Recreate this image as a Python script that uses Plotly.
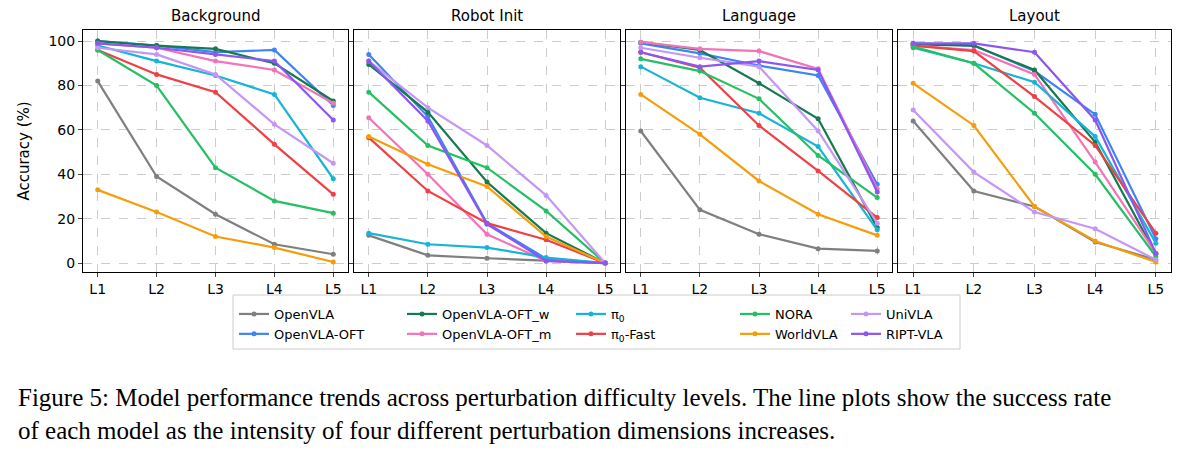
import plotly.graph_objects as go

levels = ["L1", "L2", "L3", "L4", "L5"]
panels = ["Background", "Robot Init", "Language", "Layout"]
models = ["OpenVLA", "OpenVLA-OFT", "OpenVLA-OFT_w", "OpenVLA-OFT_m", "π<sub>0</sub>",
          "π<sub>0</sub>-Fast", "NORA", "WorldVLA", "UniVLA", "RIPT-VLA"]
colors = ["#7f7f7f", "#3d85f5", "#167a50", "#f373b8", "#17b4d6",
          "#ee4045", "#25c063", "#f59e0b", "#c497f5", "#8a57f0"]

background = {
    "OpenVLA": [82, 39, 22, 8.5, 4],
    "OpenVLA-OFT": [100, 98, 95, 96, 71],
    "OpenVLA-OFT_w": [100, 98, 96.5, 90, 73],
    "OpenVLA-OFT_m": [99, 97, 91, 87, 72],
    "π<sub>0</sub>": [98, 91, 84.5, 76, 38],
    "π<sub>0</sub>-Fast": [96, 85, 77, 53.5, 31],
    "NORA": [96, 80, 43, 28, 22.5],
    "WorldVLA": [33, 23, 12, 7, 0.5],
    "UniVLA": [97, 94, 85, 62.5, 45],
    "RIPT-VLA": [99, 97, 94, 91, 64.5],
}
robot_init = {
    "OpenVLA": [12.5, 3.5, 2.2, 1, 0],
    "OpenVLA-OFT": [94, 66, 18, 2, 0],
    "OpenVLA-OFT_w": [89.5, 68, 36.5, 13.5, 0],
    "OpenVLA-OFT_m": [65.5, 40, 13, 1, 0],
    "π<sub>0</sub>": [13.5, 8.5, 7, 2.5, 0],
    "π<sub>0</sub>-Fast": [56.5, 32.5, 18, 10.5, 0],
    "NORA": [77, 53, 43, 23.5, 0],
    "WorldVLA": [57, 44.5, 34.5, 12, 0],
    "UniVLA": [91, 70, 53, 30.5, 0],
    "RIPT-VLA": [91, 64, 17.5, 1, 0],
}
language = {
    "OpenVLA": [59.5, 24, 13, 6.5, 5.5],
    "OpenVLA-OFT": [99, 94.5, 89, 84.5, 35.5],
    "OpenVLA-OFT_w": [99.5, 96, 81, 65, 16],
    "OpenVLA-OFT_m": [99.5, 96.5, 95.5, 87.5, 33.5],
    "π<sub>0</sub>": [88.5, 74.5, 67.5, 52.5, 15],
    "π<sub>0</sub>-Fast": [95, 88, 62, 41.5, 20.5],
    "NORA": [92, 86.5, 74, 48.5, 29.5],
    "WorldVLA": [76, 58, 37, 22, 12.5],
    "UniVLA": [97, 92.5, 88.5, 59.5, 18],
    "RIPT-VLA": [95, 88.5, 91, 87, 32],
}
layout_vals = {
    "OpenVLA": [64, 32.5, 25.5, 9.5, 1.5],
    "OpenVLA-OFT": [99, 98, 86.5, 67, 11],
    "OpenVLA-OFT_w": [98.5, 98, 87, 54.5, 4],
    "OpenVLA-OFT_m": [98, 96, 85, 45.5, 4.5],
    "π<sub>0</sub>": [97, 90, 81.5, 57, 9],
    "π<sub>0</sub>-Fast": [98, 95.5, 75, 53, 13.5],
    "NORA": [97.5, 90, 67.5, 40, 3],
    "WorldVLA": [81, 62, 25.5, 10, 0.5],
    "UniVLA": [69, 41, 23, 15.5, 1.5],
    "RIPT-VLA": [99, 99, 95, 64.5, 4.5],
}
data = [background, robot_init, language, layout_vals]

W, H = 1186, 457
xdom = [(75, 340), (346, 612), (618, 884), (890, 1163)]
ytop, ybot = 22, 264
legend_cols_px = [226, 394, 563, 727, 838]

fig = go.Figure()
for p, d in enumerate(data):
    ax = "" if p == 0 else str(p + 1)
    for i, (m, c) in enumerate(zip(models, colors)):
        lg = "legend" if i // 2 == 0 else "legend" + str(i // 2 + 1)
        fig.add_trace(go.Scatter(
            x=levels, y=d[m], mode="lines+markers", name=m,
            line=dict(color=c, width=2.2), marker=dict(size=5, color=c),
            xaxis="x" + ax, yaxis="y" + ax, showlegend=(p == 0), legend=lg))
    fig.layout["xaxis" + ax] = dict(
        domain=[xdom[p][0] / W, xdom[p][1] / W], anchor="y" + ax,
        showline=True, linecolor="black", mirror=True, ticks="outside", ticklen=4,
        showgrid=True, gridcolor="#cccccc", griddash="dash", gridwidth=0.8,
        tickfont=dict(size=14, color="black"), range=[-0.25, 4.25])
    fig.layout["yaxis" + ax] = dict(
        domain=[1 - ybot / H, 1 - ytop / H], anchor="x" + ax,
        range=[-4, 105], dtick=20, showline=True, linecolor="black", mirror=True,
        ticks="outside", ticklen=4, showgrid=True, gridcolor="#cccccc", griddash="dash",
        gridwidth=0.8, zeroline=False, showticklabels=(p == 0),
        tickfont=dict(size=14, color="black"),
        title=dict(text="Accuracy (%)", font=dict(size=15, color="black")) if p == 0 else None)
    fig.add_annotation(text=panels[p], x=(xdom[p][0] + xdom[p][1]) / 2 / W,
                       y=1 - (ytop - 3) / H, xref="paper", yref="paper",
                       xanchor="center", yanchor="bottom", showarrow=False,
                       font=dict(size=15, color="black"))

fig.add_annotation(
    text="Figure 5: Model performance trends across perturbation difficulty levels. The line plots show the success rate<br>"
         "of each model as the intensity of four different perturbation dimensions increases.",
    x=8 / W, y=1 - 374 / H, xref="paper", yref="paper", xanchor="left", yanchor="top",
    align="left", showarrow=False,
    font=dict(family="Liberation Serif", size=25, color="black"))

fig.add_shape(type="rect", xref="paper", yref="paper",
              x0=225 / W, x1=952 / W, y0=1 - 341 / H, y1=1 - 287 / H,
              line=dict(color="#cccccc", width=1), fillcolor="rgba(0,0,0,0)")

legend_style = dict(orientation="v", yanchor="top", y=1 - 291 / H, xanchor="left",
                    bgcolor="rgba(0,0,0,0)", borderwidth=0, font=dict(size=13),
                    itemwidth=30, tracegroupgap=0)
lay = dict(width=W, height=H, margin=dict(l=0, r=0, t=0, b=0),
           paper_bgcolor="white", plot_bgcolor="white",
           font=dict(family="DejaVu Sans", color="black"))
for k, xp in enumerate(legend_cols_px):
    name = "legend" if k == 0 else "legend" + str(k + 1)
    lay[name] = dict(legend_style, x=xp / W)
fig.update_layout(**lay)
fig.write_html("out.html")
